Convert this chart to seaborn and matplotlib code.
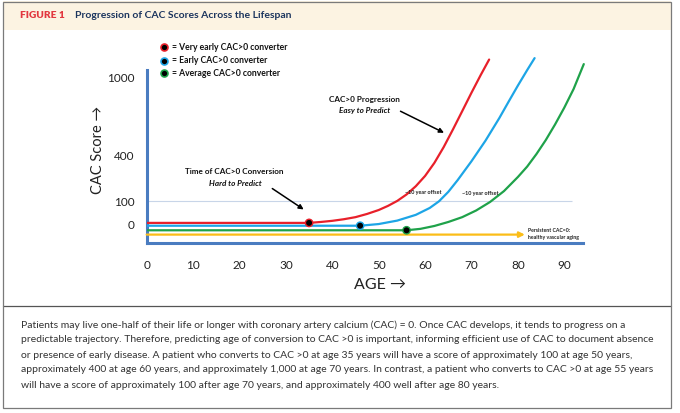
import numpy as np
import pandas as pd
import matplotlib
matplotlib.use('Agg')
import matplotlib.pyplot as plt
import seaborn as sns
from matplotlib.lines import Line2D
from matplotlib.patches import Rectangle, FancyArrowPatch

# --- data ---
CONVERTERS = ['Very early', 'Early', 'Average']

RED_AGE     = [0, 35, 37.5, 40, 42.5, 45, 47.5, 50, 52, 54, 56, 58, 60, 62, 64, 66, 68, 70, 72, 73.8]
RED_SCORE   = [5, 5, 9, 14, 21, 30, 44, 61, 79, 101, 143, 197, 264, 349, 461, 597, 738, 880, 1017, 1135]
BLUE_AGE    = [0, 46, 50, 54, 58, 61, 63, 65, 67, 70, 73, 76, 78, 80, 82, 83.6]
BLUE_SCORE  = [-7, -7, 0, 15, 40, 70, 99, 160, 236, 360, 510, 685, 811, 935, 1054, 1146]
GREEN_AGE   = [0, 56, 59, 62, 65, 68, 71, 74, 77, 80, 82, 84, 86, 88, 90, 92, 94.2]
GREEN_SCORE = [-26, -26, -20, -8, 9, 30, 59, 96, 165, 257, 325, 408, 515, 635, 765, 908, 1100]

CONVERT_AGE   = [35, 46, 56]
CONVERT_SCORE = [5, -7, -26]

PERSISTENT_AGE   = [0, 81.5]
PERSISTENT_SCORE = [-44, -44]

REF_SCORE   = 100
REF_AGE_END = 91.7

AGE_TICKS   = list(range(0, 100, 10))
SCORE_TICKS = [0, 100, 400, 1000]

CAPTION = [
    'Patients may live one-half of their life or longer with coronary artery calcium (CAC) = 0. Once CAC develops, it tends to progress on a',
    'predictable trajectory. Therefore, predicting age of conversion to CAC >0 is important, informing efficient use of CAC to document absence',
    'or presence of early disease. A patient who converts to CAC >0 at age 35 years will have a score of approximately 100 at age 50 years,',
    'approximately 400 at age 60 years, and approximately 1,000 at age 70 years. In contrast, a patient who converts to CAC >0 at age 55 years',
    'will have a score of approximately 100 after age 70 years, and approximately 400 well after age 80 years.',
]

# --- style ---
RED    = '#E8202A'
BLUE   = '#1DA5E6'
GREEN  = '#1FA24A'
YELLOW = '#FBBD18'
AXIS   = '#4A7CC0'
BAND   = '#FCF3E2'
NAVY   = '#1C355E'
PALETTE = dict(zip(CONVERTERS, [RED, BLUE, GREEN]))

# the drawing uses an uneven score axis: piecewise linear between ticks
SCALE_VALUES = [-500, 0, 100, 400, 1000, 2000]
SCALE_PIXELS = [-120, 0, 23, 69, 147, 277]


def _fwd(v):
    return np.interp(v, SCALE_VALUES, SCALE_PIXELS)


def _inv(p):
    return np.interp(p, SCALE_PIXELS, SCALE_VALUES)


W, H = 680, 413


def fx(x):
    return x / W


def fy(y):
    return 1 - y / H


sns.set_style('white')
plt.rcParams['font.family'] = ['Lato', 'DejaVu Sans']

fig = plt.figure(figsize=(6.8, 4.13), dpi=100)
fig.patch.set_facecolor('white')

# frame, title band, separator
fig.patches.append(Rectangle((fx(2.7), fy(29.5)), (671 - 2.7) / W, 28 / H,
                             transform=fig.transFigure, fc=BAND, ec='none', zorder=0))
fig.patches.append(Rectangle((fx(2.7), fy(408.3)), (671 - 2.7) / W, (408.3 - 1.5) / H,
                             transform=fig.transFigure, fill=False, ec='#7a7a7a', lw=0.9, zorder=5))
fig.add_artist(Line2D([fx(2.7), fx(671)], [fy(306), fy(306)], color='#555555', lw=0.9))

fig.text(fx(20), fy(16), 'FIGURE 1', color='#E2373F', fontsize=7.3, fontweight='heavy', va='center')
fig.text(fx(75), fy(16), 'Progression of CAC Scores Across the Lifespan', color=NAVY,
         fontsize=7.5, fontweight='bold', va='center')

# --- main axes ---
ax = fig.add_axes([fx(146.7), (H - 243) / H, 464 / W, 188 / H])
ax.patch.set_visible(False)
ax.set_yscale('function', functions=(_fwd, _inv))
ax.set_xlim(0, 100)
ax.set_ylim(-79, 1170)

ax.hlines(REF_SCORE, 0, REF_AGE_END, color='#C8D5E8', lw=0.8, zorder=1)

frames = []
for name, ages, scores in zip(CONVERTERS, [RED_AGE, BLUE_AGE, GREEN_AGE],
                              [RED_SCORE, BLUE_SCORE, GREEN_SCORE]):
    frames.append(pd.DataFrame({'age': ages, 'score': scores, 'converter': name}))
df = pd.concat(frames, ignore_index=True)

sns.lineplot(data=df, x='age', y='score', hue='converter', palette=PALETTE,
             sort=False, estimator=None, lw=1.6, legend=False, ax=ax, zorder=3)

ax.annotate('', xy=(PERSISTENT_AGE[1], PERSISTENT_SCORE[1]),
            xytext=(PERSISTENT_AGE[0], PERSISTENT_SCORE[0]),
            arrowprops=dict(arrowstyle='-|>', color=YELLOW, lw=1.6,
                            mutation_scale=8, shrinkA=0, shrinkB=0), zorder=3)

sns.scatterplot(x=CONVERT_AGE, y=CONVERT_SCORE, color='black',
                edgecolor=[RED, BLUE, GREEN], linewidth=1.0, s=28, ax=ax, zorder=4)

for side in ['top', 'right']:
    ax.spines[side].set_visible(False)
for side in ['left', 'bottom']:
    ax.spines[side].set_color(AXIS)
    ax.spines[side].set_linewidth(2.2)
ax.spines['left'].set_bounds(-79, 1054)
ax.spines['bottom'].set_bounds(0, 94)

ax.set_xticks(AGE_TICKS)
ax.set_yticks(SCORE_TICKS)
ax.yaxis.set_minor_locator(matplotlib.ticker.NullLocator())
ax.set_yticklabels([str(t) for t in SCORE_TICKS])
ax.tick_params(axis='both', direction='out', length=7, width=1.8, color=AXIS,
               labelsize=8.5, labelcolor='#222222')
ax.tick_params(axis='x', pad=5)
ax.tick_params(axis='y', pad=2)
ax.set_xlabel('')
ax.set_ylabel('')

ax.text(-0.105, 0.495, 'CAC Score →', transform=ax.transAxes, rotation=90,
        ha='center', va='center', fontsize=10.5, color='#222222')
ax.text(0.503, -0.223, 'AGE →', transform=ax.transAxes,
        ha='center', va='center', fontsize=11.5, color='#222222')

# --- legend (marker + text rows) ---
for name, color, y in zip(CONVERTERS, [RED, BLUE, GREEN], [47.3, 60.5, 73.3]):
    fig.add_artist(Line2D([fx(164.3)], [fy(y)], transform=fig.transFigure, marker='o',
                          ls='', mfc='black', mec=color, mew=1.2, ms=5))
    fig.text(fx(171.5), fy(y), f'= {name} CAC>0 converter', fontsize=6.2,
             fontweight='bold', va='center', color='#111111')

# --- annotations ---
fig.text(fx(234.7), fy(171.7), 'Time of CAC>0 Conversion', fontsize=5.9,
         fontweight='bold', ha='center', va='center', color='#111111')
fig.text(fx(235), fy(184), 'Hard to Predict', fontsize=5.9, fontweight='bold',
         style='italic', ha='center', va='center', color='#111111')
fig.text(fx(364), fy(99.3), 'CAC>0 Progression', fontsize=5.9,
         fontweight='bold', ha='center', va='center', color='#111111')
fig.text(fx(364.5), fy(111), 'Easy to Predict', fontsize=5.9, fontweight='bold',
         style='italic', ha='center', va='center', color='#111111')

for (x0, y0), (x1, y1) in [((270, 187), (306, 211)), ((398, 110), (446.5, 134))]:
    fig.add_artist(FancyArrowPatch(
        (fx(x0), fy(y0)), (fx(x1), fy(y1)), transform=fig.transFigure,
        arrowstyle='-|>', mutation_scale=7, lw=1.1, color='black'))

fig.text(fx(405), fy(192.7), '~10 year offset', fontsize=3.9, fontweight='bold',
         va='center', color='#222222')
fig.text(fx(461.7), fy(194), '~10 year offset', fontsize=3.9, fontweight='bold',
         va='center', color='#222222')
fig.text(fx(528.3), fy(234), 'Persistent CAC=0:\nhealthy vascular aging', fontsize=3.7,
         fontweight='bold', va='center', color='#222222', linespacing=1.5)

# --- caption ---
for i, line in enumerate(CAPTION):
    fig.text(fx(20.7), fy(325 + 15 * i), line, fontsize=7.5, va='center', color='#333333')

fig.savefig('out.png', dpi=100, facecolor='white')
